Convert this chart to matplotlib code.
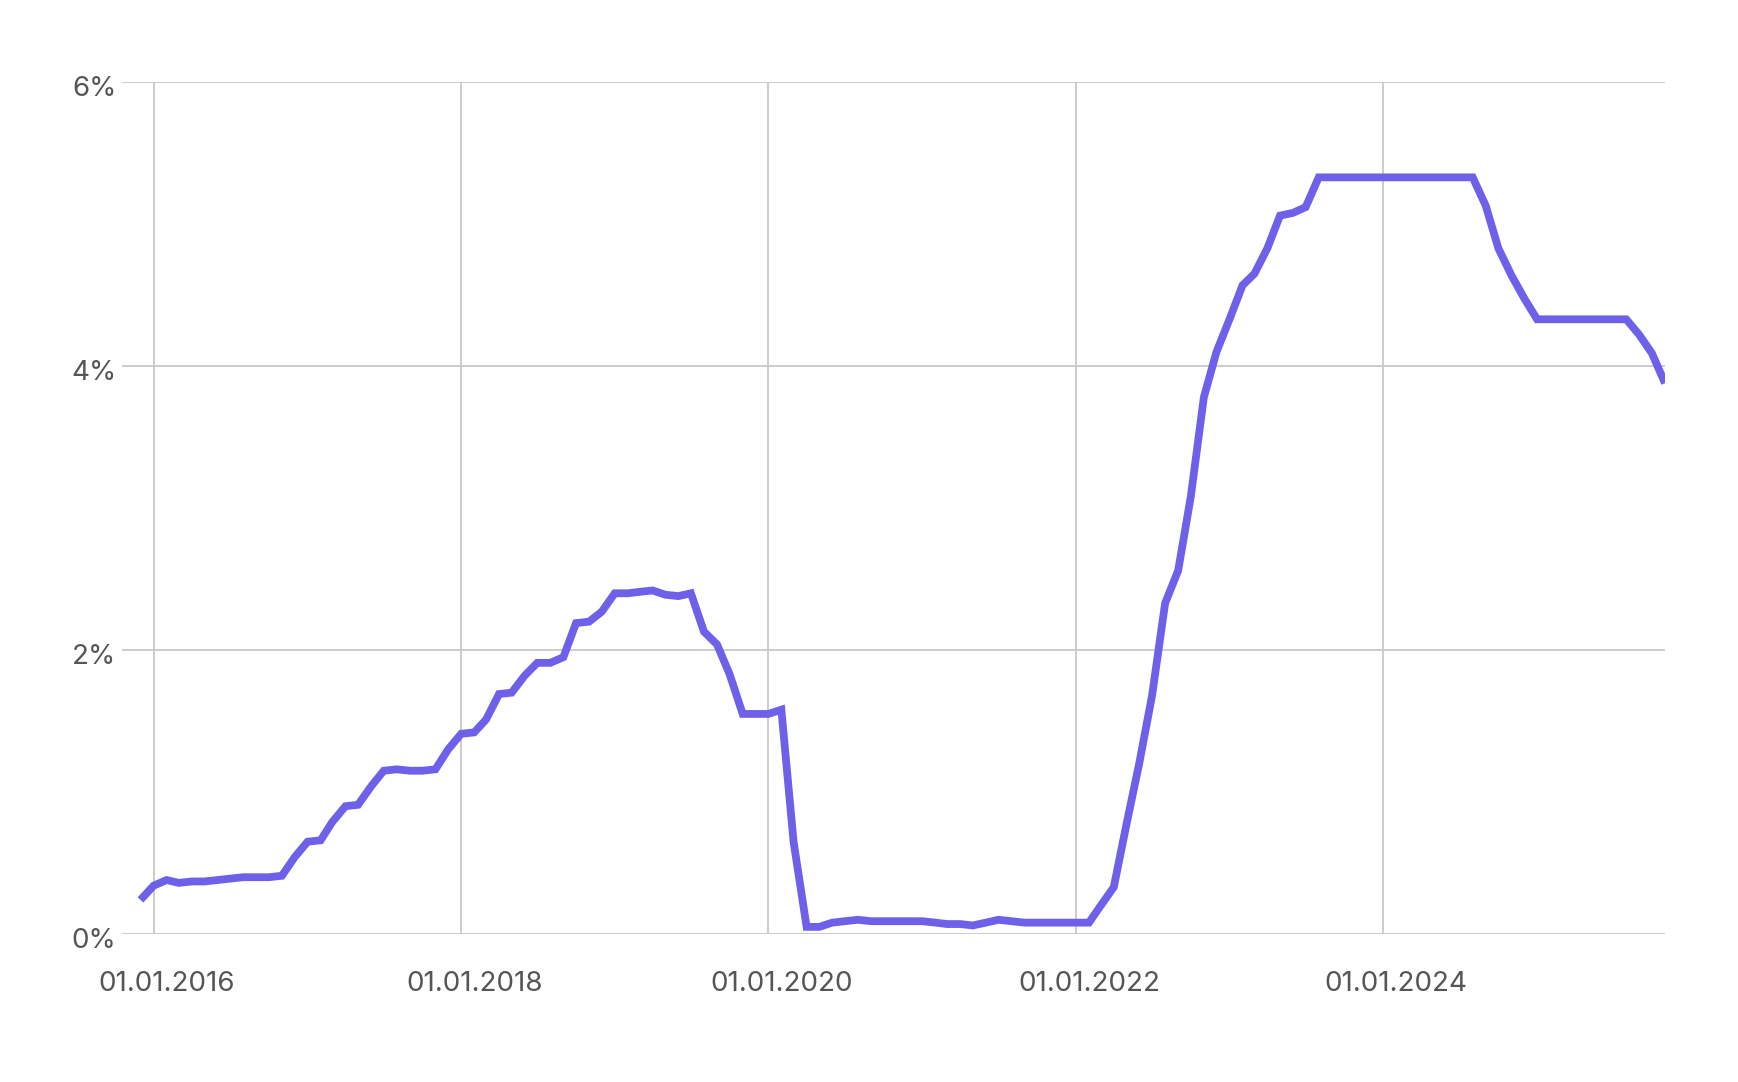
import numpy as np
import pandas as pd
import matplotlib
matplotlib.use("Agg")
import matplotlib.pyplot as plt
import matplotlib.dates as mdates
import matplotlib.transforms as mtransforms
from matplotlib.ticker import FuncFormatter

# monthly effective rate, Dec 2015 .. Nov 2025
start = "2015-12-01"
rate_2015 = [0.24]
rate_2016 = [0.34, 0.38, 0.36, 0.37, 0.37, 0.38, 0.39, 0.40, 0.40, 0.40, 0.41, 0.54]
rate_2017 = [0.65, 0.66, 0.79, 0.90, 0.91, 1.04, 1.15, 1.16, 1.15, 1.15, 1.16, 1.30]
rate_2018 = [1.41, 1.42, 1.51, 1.69, 1.70, 1.82, 1.91, 1.91, 1.95, 2.19, 2.20, 2.27]
rate_2019 = [2.40, 2.40, 2.41, 2.42, 2.39, 2.38, 2.40, 2.13, 2.04, 1.83, 1.55, 1.55]
rate_2020 = [1.55, 1.58, 0.65, 0.05, 0.05, 0.08, 0.09, 0.10, 0.09, 0.09, 0.09, 0.09]
rate_2021 = [0.09, 0.08, 0.07, 0.07, 0.06, 0.08, 0.10, 0.09, 0.08, 0.08, 0.08, 0.08]
rate_2022 = [0.08, 0.08, 0.20, 0.33, 0.77, 1.21, 1.68, 2.33, 2.56, 3.08, 3.78, 4.10]
rate_2023 = [4.33, 4.57, 4.65, 4.83, 5.06, 5.08, 5.12, 5.33, 5.33, 5.33, 5.33, 5.33]
rate_2024 = [5.33, 5.33, 5.33, 5.33, 5.33, 5.33, 5.33, 5.33, 5.13, 4.83, 4.64, 4.48]
rate_2025 = [4.33, 4.33, 4.33, 4.33, 4.33, 4.33, 4.33, 4.33, 4.22, 4.09, 3.88]

rates = (rate_2015 + rate_2016 + rate_2017 + rate_2018 + rate_2019 + rate_2020
         + rate_2021 + rate_2022 + rate_2023 + rate_2024 + rate_2025)
dates = pd.date_range(start, periods=len(rates), freq="MS")

tick_dates = pd.to_datetime(["2016-01-01", "2018-01-01", "2020-01-01",
                             "2022-01-01", "2024-01-01"])
y_ticks = [0, 2, 4, 6]

plt.rcParams['font.family'] = ['Inter', 'DejaVu Sans']
txt_color = '#555555'

fig = plt.figure(figsize=(17.38, 10.82), dpi=100)
ax = fig.add_axes([0.0702, 0.1368, 0.958 - 0.0702, 0.924 - 0.1368])

ax.plot(dates, rates, color='#6E60E8', linewidth=5.6, solid_joinstyle='miter',
        solid_capstyle='butt', zorder=3)

ax.set_xlim(pd.Timestamp("2015-10-18"), pd.Timestamp("2025-11-01"))
ax.set_ylim(0, 6)

ax.set_xticks(tick_dates)
ax.xaxis.set_major_formatter(mdates.DateFormatter("%d.%m.%Y"))
ax.set_yticks(y_ticks)
ax.yaxis.set_major_formatter(FuncFormatter(lambda v, p: f"{v:.0f}%"))

ax.grid(True, color='#c8c8c8', linewidth=1.3, zorder=0)
for s in ax.spines.values():
    s.set_visible(False)
ax.tick_params(axis='both', length=0, labelsize=20, colors=txt_color)
ax.tick_params(axis='x', pad=27)
ax.tick_params(axis='y', pad=4)

# labels sit a little to the right of / below their gridlines
for lab in ax.get_xticklabels():
    lab.set_transform(lab.get_transform() + mtransforms.ScaledTranslation(0.13, 0, fig.dpi_scale_trans))
for lab in ax.get_yticklabels():
    lab.set_transform(lab.get_transform() + mtransforms.ScaledTranslation(0, -0.04, fig.dpi_scale_trans))

fig.savefig("out.png", dpi=100, facecolor='white')
